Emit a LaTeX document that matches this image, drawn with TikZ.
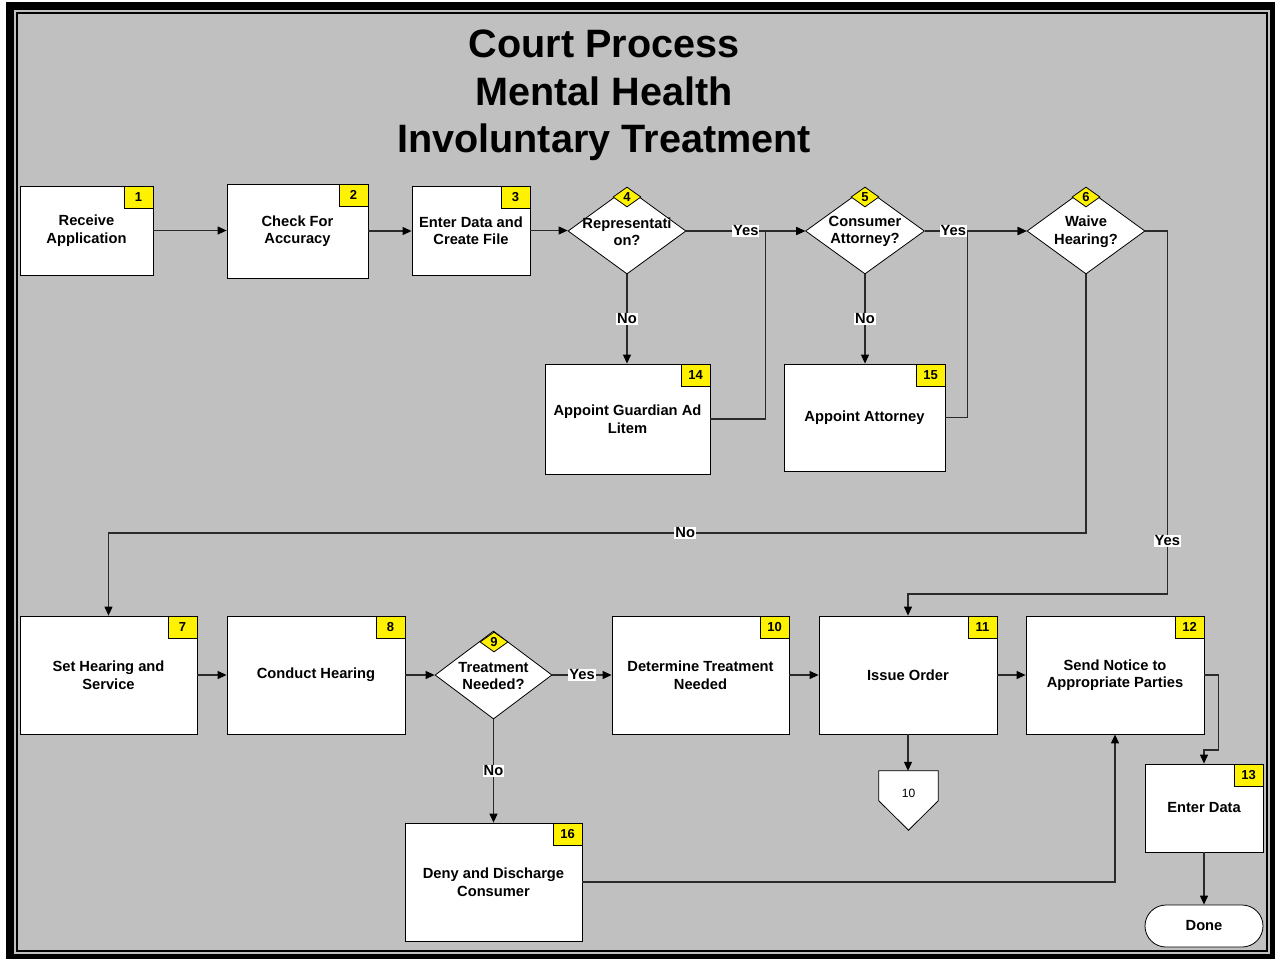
\documentclass[tikz,border=0pt]{standalone}
\usepackage{fontspec}
\setmainfont{Liberation Sans}
\usetikzlibrary{shapes.geometric,arrows.meta}
\definecolor{panel}{HTML}{C0C0C0}
\definecolor{wire}{HTML}{2A2A2A}

\begin{document}
\begin{tikzpicture}[x=1pt,y=-1pt,
  every node/.style={font=\fontsize{14.7}{17.5}\selectfont\bfseries},
  box/.style={draw=black,fill=white,line width=0.8pt,inner sep=0pt,align=center},
  dia/.style={shape=diamond,draw=black,fill=white,line width=0.8pt,inner sep=0pt,
    minimum width=118pt,minimum height=86pt},
  dtext/.style={align=center,inner sep=0pt},
  badge/.style={draw=black,fill=yellow,line width=0.8pt,inner sep=0pt,
    minimum width=29pt,minimum height=22pt,anchor=north east,
    font=\fontsize{13}{13}\selectfont\bfseries},
  bdia/.style={shape=diamond,draw=black,fill=yellow,line width=0.8pt,inner sep=0pt,
    minimum width=28pt,minimum height=20pt,font=\fontsize{13}{13}\selectfont\bfseries},
  conn/.style={draw=wire,line width=1.1pt,-{Triangle[length=9pt,width=8pt,fill=black,color=black]}},
  lab/.style={fill=white,inner sep=1pt,font=\fontsize{14.7}{14.7}\selectfont\bfseries},
  titletext/.style={anchor=base,font=\fontsize{39.6}{39.6}\selectfont\bfseries}
]
% page and double frame
\useasboundingbox (0,0) rectangle (1275,959);
\fill[white] (0,0) rectangle (1275,959);
\fill[black] (6,2) rectangle (1275,959);
\fill[panel] (14,10) rectangle (1270,954);
\fill[black] (16,12) rectangle (1268,952);
\fill[panel] (18,14) rectangle (1266,950);

% heading
\node[titletext] (t1) at (604,57) {Court Process};
\node[titletext] (t2) at (604,105) {Mental Health};
\node[titletext] (t3) at (604,152) {Involuntary Treatment};

% first row
\node[box,minimum width=133pt,minimum height=89pt] (n1) at (86.5,230.5) {Receive\\Application};
\node[box,minimum width=141pt,minimum height=94pt] (n2) at (297.5,231) {Check For\\Accuracy};
\node[box,minimum width=118pt,minimum height=89pt] (n3) at (471,230.5) {Enter Data and\\Create File};
\node[dia] (d4) at (627,231) {};
\node[dtext] at (627,231.5) {Representati\\on?};
\node[dia,minimum width=119pt] (d5) at (865,231) {};
\node[dtext] at (865,231.5) {Consumer\\Attorney?};
\node[dia] (d6) at (1086,231) {};
\node[dtext] at (1086,231.5) {Waive\\Hearing?};

\node[box,minimum width=165pt,minimum height=110pt] (n14) at (627.5,419) {Appoint Guardian Ad\\Litem};
\node[box,minimum width=161pt,minimum height=107pt] (n15) at (864.5,417.5) {Appoint Attorney};

% second row
\node[box,minimum width=177pt,minimum height=118pt] (n7) at (108.5,675) {Set Hearing and\\Service};
\node[box,minimum width=178pt,minimum height=118pt] (n8) at (316,675) {Conduct Hearing};
\node[dia,minimum width=117pt,minimum height=88pt] (d9) at (493.5,675) {};
\node[dtext] at (493.5,676) {Treatment\\Needed?};
\node[box,minimum width=177pt,minimum height=118pt] (n10) at (700.5,675) {Determine Treatment\\Needed};
\node[box,minimum width=178pt,minimum height=118pt] (n11) at (908,675) {Issue Order};
\node[box,minimum width=178pt,minimum height=118pt] (n12) at (1115,675) {Send Notice to\\Appropriate Parties};
\node[box,minimum width=118pt,minimum height=88pt] (n13) at (1204,808) {Enter Data};
\node[box,minimum width=177pt,minimum height=118pt] (n16) at (493.5,882) {Deny and Discharge\\Consumer};
\node[box,rounded corners=21pt,minimum width=118pt,minimum height=42pt] (done) at (1204,926) {Done};

% off-page connector
\node[inner sep=0pt,minimum width=59pt,minimum height=59pt] (off) at (908.5,800.5) {};
\draw[black,fill=white,line width=0.8pt] (off.north west) -- (off.north east)
  -- ([yshift=-30pt]off.north east) -- (off.south) -- ([yshift=-30pt]off.north west) -- cycle;
\node[font=\fontsize{12}{12}\selectfont] at (908.5,793) {10};

% step numbers
\node[badge] at (n1.north east) {1};
\node[badge] at (n2.north east) {2};
\node[badge] at (n3.north east) {3};
\node[bdia] at (627,197) {4};
\node[bdia] at (865,197) {5};
\node[bdia] at (1086,197) {6};
\node[badge] at (n7.north east) {7};
\node[badge] at (n8.north east) {8};
\node[bdia] at (494,642) {9};
\node[badge] at (n10.north east) {10};
\node[badge] at (n11.north east) {11};
\node[badge] at (n12.north east) {12};
\node[badge] at (n13.north east) {13};
\node[badge] at (n14.north east) {14};
\node[badge] at (n15.north east) {15};
\node[badge] at (n16.north east) {16};

% connectors, first row
\coordinate (yrow) at (0,594);
\coordinate (yno) at (0,533);
\draw[conn] (n1.east) -- (n1.east -| n2.west);
\draw[conn] (n2.east) -- (n2.east -| n3.west);
\draw[conn] (n3.east) -- (n3.east -| d4.west);
\draw[conn] (d4.east) -- node[lab]{Yes} (d5.west);
\draw[conn] (d4.south) -- node[lab]{No} (d4.south |- n14.north);
\draw[conn] (n14.east) -- ++(55,0) |- (d5.west);
\draw[conn] (d5.east) -- node[lab,pos=0.28]{Yes} (d6.west);
\draw[conn] (d5.south) -- node[lab]{No} (d5.south |- n15.north);
\draw[conn] (n15.east) -- ++(22,0) |- (d6.west);
\draw[conn] (d6.south) -- (d6.south |- yno) -- node[lab,pos=0.41]{No} (yno -| n7.north) -- (n7.north);
\draw[conn] (d6.east) -- ++(22,0) coordinate (c6) -- node[lab,pos=0.854]{Yes} (c6 |- yrow) -| (n11.north);

% connectors, second row
\draw[conn] (n7.east) -- (n8.west);
\draw[conn] (n8.east) -- (d9.west);
\draw[conn] (d9.east) -- node[lab]{Yes} (n10.west);
\draw[conn] (d9.south) -- node[lab]{No} (d9.south |- n16.north);
\draw[conn] (n10.east) -- (n11.west);
\draw[conn] (n11.east) -- (n12.west);
\draw[conn] (n11.south) -- (n11.south |- off.north);
\draw[conn] (n12.east) -- ++(14,0) -- ++(0,75) -| (n13.north);
\draw[conn] (n16.east) -| (n12.south);
\draw[conn] (n13.south) -- (done.north);
\end{tikzpicture}
\end{document}
